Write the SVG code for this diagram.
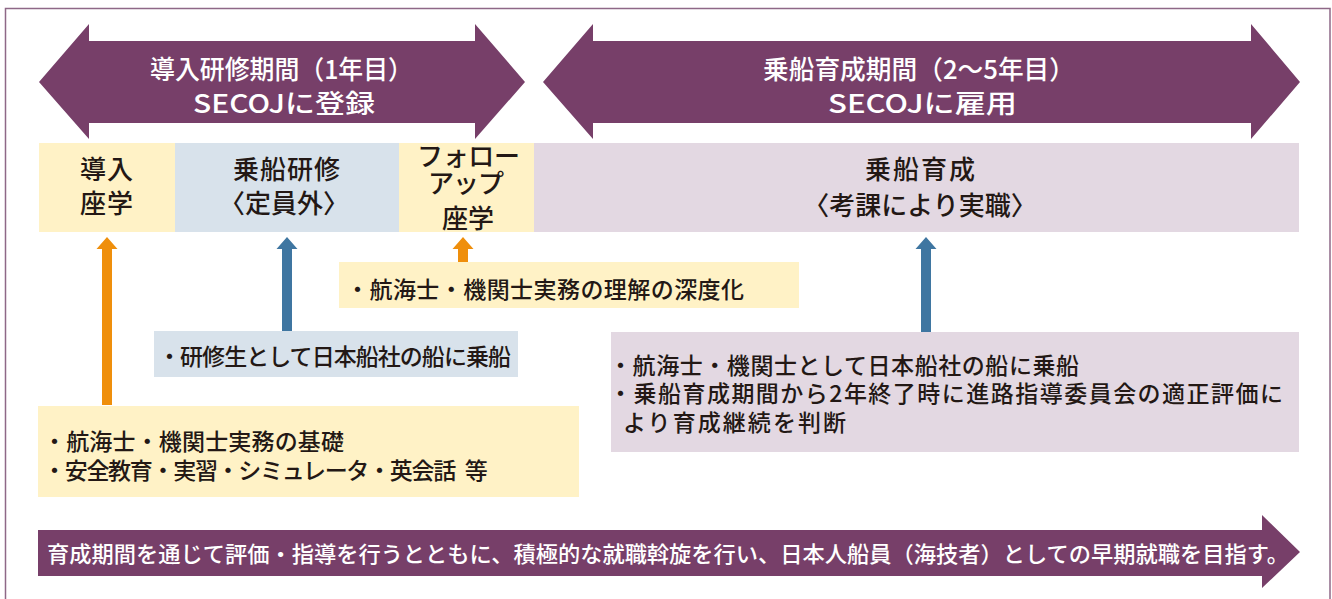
<svg xmlns="http://www.w3.org/2000/svg" width="1332" height="599" viewBox="0 0 1332 599">
<style>
text{font-family:"Noto Sans CJK JP","Noto Sans",sans-serif;}
.frame{fill:#ffffff;stroke:#8e6887;stroke-width:1.5;}
.band{fill:#773f69;}
.ttl{fill:#ffffff;font-size:26px;font-weight:500;}
.lbl{fill:#231815;font-size:26px;font-weight:500;}
.mid{text-anchor:middle;}
.bul{fill:#231815;font-size:23px;font-weight:500;}
.foot{fill:#ffffff;font-size:22px;font-weight:500;}
.yel{fill:#fff2c6;}
.blu{fill:#d8e2eb;}
.mau{fill:#e3d8e2;}
.org{fill:#ef8f0c;}
.bla{fill:#3f76a1;}
</style>
<rect class="frame" x="5.5" y="8.5" width="1324.5" height="600"/>

<g id="period1">
<polygon class="band" points="39,82 89,24 89,41 475,41 475,24 525,82 475,139 475,123 89,123 89,139"/>
<text class="ttl" x="150" y="79" textLength="263" lengthAdjust="spacingAndGlyphs">導入研修期間（1年目）</text>
<text class="ttl" x="193" y="113" textLength="182" lengthAdjust="spacingAndGlyphs">SECOJに登録</text>
</g>
<g id="period2">
<polygon class="band" points="543,82 593,24 593,41 1251,41 1251,24 1300,82 1251,139 1251,123 593,123 593,139"/>
<text class="ttl" x="763" y="79" textLength="312" lengthAdjust="spacingAndGlyphs">乗船育成期間（2〜5年目）</text>
<text class="ttl" x="828" y="113" textLength="189" lengthAdjust="spacingAndGlyphs">SECOJに雇用</text>
</g>

<g id="box-doza">
<rect class="yel" x="39" y="143" width="136" height="89"/>
<text class="lbl" x="80" y="178.5" textLength="53">導入</text>
<text class="lbl" x="80" y="212.5" textLength="53">座学</text>
</g>
<g id="box-kensyu">
<rect class="blu" x="175" y="143" width="224" height="89"/>
<text class="lbl" x="233" y="178.5" textLength="107">乗船研修</text>
<text class="lbl mid" x="284" y="212.5">〈定員外〉</text>
</g>
<g id="box-follow">
<rect class="yel" x="399" y="143" width="135" height="89"/>
<text class="lbl" x="417" y="166" textLength="103">フォロー</text>
<text class="lbl" x="428" y="193" textLength="76">アップ</text>
<text class="lbl" x="442" y="228" textLength="52">座学</text>
</g>
<g id="box-ikusei">
<rect class="mau" x="534" y="143" width="765" height="89"/>
<text class="lbl" x="865" y="179" textLength="110">乗船育成</text>
<text class="lbl mid" x="920" y="215">〈考課により実職〉</text>
</g>

<g id="connectors">
<polygon class="org" points="107,237 96.5,249 102,249 102,405 112,405 112,249 117.5,249"/>
<polygon class="bla" points="287,237 276.5,249 282,249 282,331 292,331 292,249 297.5,249"/>
<polygon class="org" points="463,237 452.5,249 458,249 458,262 468,262 468,249 473.5,249"/>
<polygon class="bla" points="926,237 915.5,249 921,249 921,332 931,332 931,249 936.5,249"/>
</g>

<g id="note-follow">
<rect class="yel" x="339" y="262" width="460" height="46"/>
<text class="bul" x="346" y="298" textLength="398">・航海士・機関士実務の理解の深度化</text>
</g>
<g id="note-kensyu">
<rect class="blu" x="154" y="331" width="364" height="46"/>
<text class="bul" x="158" y="365" textLength="353">・研修生として日本船社の船に乗船</text>
</g>
<g id="note-doza">
<rect class="yel" x="38" y="406" width="541" height="91"/>
<text class="bul" x="43" y="450" textLength="301">・航海士・機関士実務の基礎</text>
<text class="bul" x="43" y="479" style="letter-spacing:-1.3px;word-spacing:6px">・安全教育・実習・シミュレータ・英会話 等</text>
</g>
<g id="note-ikusei">
<rect class="mau" x="611" y="332" width="688" height="120"/>
<text class="bul" x="609" y="374" textLength="470">・航海士・機関士として日本船社の船に乗船</text>
<text class="bul" x="609" y="402" textLength="674">・乗船育成期間から2年終了時に進路指導委員会の適正評価に</text>
<text class="bul" x="623" y="431" textLength="223">より育成継続を判断</text>
</g>

<g id="goal">
<polygon class="band" points="38,530 1262,530 1262,515 1300,552 1262,588 1262,576 38,576"/>
<text class="foot" x="47" y="562" textLength="1242" lengthAdjust="spacingAndGlyphs">育成期間を通じて評価・指導を行うとともに、積極的な就職斡旋を行い、日本人船員（海技者）としての早期就職を目指す。</text>
</g>
</svg>
